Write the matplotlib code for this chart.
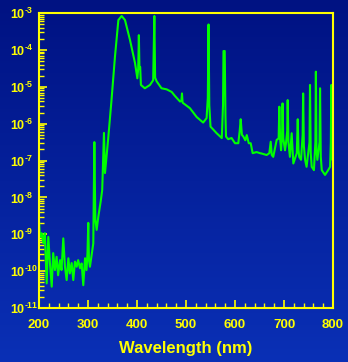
import numpy as np
import matplotlib
matplotlib.use("Agg")
import matplotlib.pyplot as plt
from matplotlib.ticker import LogLocator, MultipleLocator, FuncFormatter, NullFormatter

# Spectrum: wavelength (nm) and log10 of intensity
wavelength = [
    200, 202, 205.5, 209, 212, 215.7, 219, 222.4, 226, 229, 232.6, 236, 239, 243,
    246, 249.6, 253, 256.5, 260, 263, 266.7, 270, 273.5, 277, 280, 283.7, 287,
    290.4, 294, 297, 299, 300.6, 302, 304, 307, 310.8, 313, 315, 317.7, 321, 326,
    329, 332.6, 334.7, 341, 348, 355, 362, 368.7, 375.5, 385.7, 396, 400.7, 402.5,
    403.8, 405, 406.5, 408, 416, 426.5, 433, 435.4, 437, 440, 450, 460.6, 470.8,
    477.5, 487.8, 490.5, 491.8, 493, 508, 521.8, 535, 542, 544.5, 546, 547.5, 550,
    562.6, 573, 575.5, 576.5, 579, 580.5, 581.6, 586, 593, 600, 606.7, 609.5,
    611.6, 614, 617, 621, 624, 628, 632, 636, 644, 651, 654.5, 664.6, 670, 672.8,
    675, 678, 685, 689, 690.4, 692, 694, 696, 697, 698.5, 702, 704, 706.5, 707.5,
    709, 712, 715.6, 719, 726, 728, 729.5, 731, 734.7, 738, 739, 740.5, 743, 746,
    752, 753, 754.5, 756.5, 761, 764, 765, 766.2, 768, 772.5, 773.5, 775, 777,
    783.7, 790, 794, 795.5, 796.5, 797.5, 798.6, 800,
]
log_intensity = [
    -8.61, -9.07, -8.97, -9.24, -8.97, -10.33, -9.07, -9.78, -10.42, -9.51, -9.97,
    -9.61, -10.11, -9.70, -9.97, -9.11, -9.88, -10.24, -9.65, -10.06, -9.78, -10.24,
    -9.74, -9.88, -9.70, -9.92, -9.79, -10.38, -9.65, -9.97, -9.5, -8.69, -9.7,
    -9.88, -9.6, -9.25, -6.5, -8.6, -8.88, -8.53, -8.1, -7.8, -6.25, -7.34, -6.44,
    -5.36, -4.19, -3.19, -3.08, -3.19, -3.73, -4.36, -4.77, -4.5, -3.6, -4.5, -4.46,
    -4.95, -5.04, -4.95, -4.82, -3.08, -4.75, -4.85, -5.04, -5.07, -5.14, -5.25,
    -5.40, -5.38, -5.18, -5.43, -5.58, -5.82, -5.97, -5.85, -5.3, -3.31, -5.5,
    -6.08, -6.26, -6.39, -5.5, -4.03, -4.03, -5.8, -6.35, -6.42, -6.39, -6.53,
    -6.53, -6.2, -5.88, -6.3, -6.35, -6.45, -6.31, -6.53, -6.53, -6.8, -6.77, -6.8,
    -6.81, -6.85, -6.8, -6.49, -6.85, -6.9, -6.44, -6.4, -5.54, -6.4, -6.72, -6.3,
    -5.45, -6.4, -6.72, -6.53, -6.2, -5.36, -6.5, -6.9, -6.26, -7.08, -6.8, -5.88,
    -6.7, -6.9, -6.98, -6.3, -5.18, -6.6, -6.98, -7.17, -6.5, -4.95, -6.8, -7.17,
    -7.26, -6.5, -4.59, -6.7, -6.98, -6.5, -5.04, -6.9, -7.26, -7.39, -7.26, -7.17,
    -6.5, -4.95, -6.5, -6.98, -5.45,
]

x_ticks = [200, 300, 400, 500, 600, 700, 800]

YELLOW = "#ffff00"
GREEN = "#00ff00"

plt.rcParams["font.family"] = ["Liberation Sans", "DejaVu Sans"]
plt.rcParams["mathtext.fontset"] = "custom"
plt.rcParams["mathtext.rm"] = "Liberation Sans:bold"
plt.rcParams["mathtext.it"] = "Liberation Sans:bold"
plt.rcParams["mathtext.bf"] = "Liberation Sans:bold"


def decade_label(v, pos):
    # short hyphen in the exponent, like the original labels
    return "$10^{\u2010%d}$" % abs(round(np.log10(v)))


fig = plt.figure(figsize=(3.48, 3.62), dpi=100)

# blue gradient background behind everything
bg = fig.add_axes([0, 0, 1, 1], zorder=-10)
grad = np.linspace(0, 1, 256).reshape(-1, 1)
cmap = matplotlib.colors.LinearSegmentedColormap.from_list("bg", ["#001282", "#0a30b6"])
bg.imshow(grad, aspect="auto", cmap=cmap, extent=[0, 1, 0, 1], origin="upper")
bg.set_axis_off()

ax = fig.add_axes([0.112, 0.149, 0.845, 0.815])
ax.patch.set_alpha(0)
ax.plot(wavelength, 10.0 ** np.array(log_intensity), color=GREEN, lw=1.5)

ax.set_yscale("log")
ax.set_xlim(200, 800)
ax.set_ylim(1e-11, 1e-3)

ax.set_xticks(x_ticks)
ax.xaxis.set_minor_locator(MultipleLocator(20))
ax.yaxis.set_major_locator(LogLocator(base=10, numticks=20))
ax.yaxis.set_minor_locator(LogLocator(base=10, subs=np.arange(2, 10), numticks=20))
ax.yaxis.set_major_formatter(FuncFormatter(decade_label))
ax.yaxis.set_minor_formatter(NullFormatter())

for side in ["left", "right", "top", "bottom"]:
    ax.spines[side].set_color(YELLOW)
    ax.spines[side].set_linewidth(1.5)

ax.tick_params(which="both", direction="in", color=YELLOW, top=False, right=False)
ax.tick_params(which="major", length=6, width=1.2, labelcolor=YELLOW)
ax.tick_params(which="minor", length=3.5, width=1.0)
ax.tick_params(axis="x", which="major", labelsize=9.5, pad=8)
ax.tick_params(axis="y", which="major", labelsize=9, pad=21)
for lbl in ax.get_xticklabels():
    lbl.set_fontweight("bold")
for lbl in ax.get_yticklabels():
    lbl.set_horizontalalignment("left")

ax.set_xlabel("Wavelength (nm)", color=YELLOW, fontsize=12, fontweight="bold", labelpad=7)

fig.savefig("out.png", dpi=100)
